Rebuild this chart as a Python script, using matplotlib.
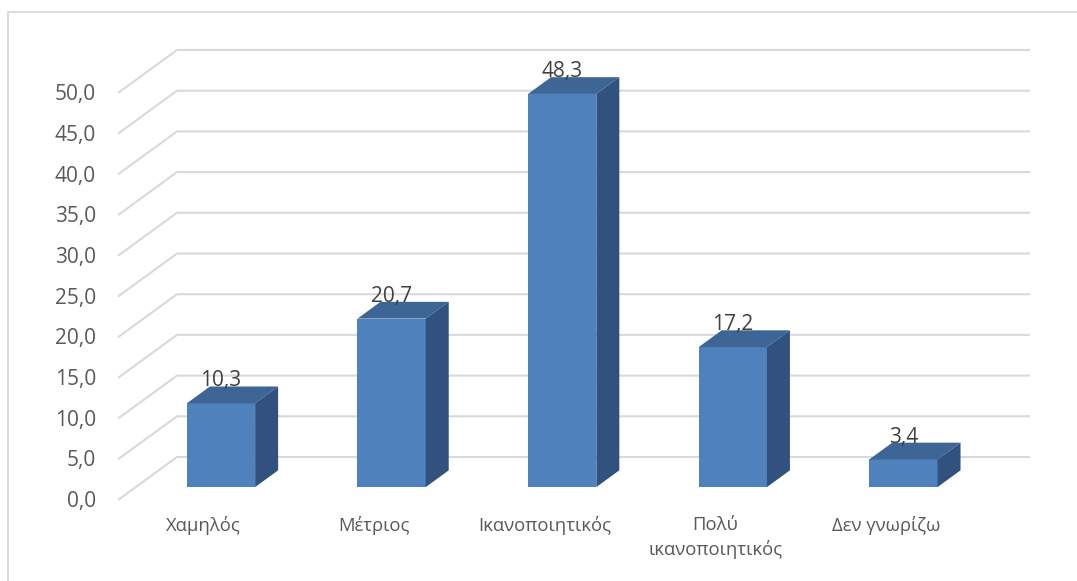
import matplotlib.pyplot as plt
from matplotlib.patches import Polygon

categories = ['Χαμηλός', 'Μέτριος', 'Ικανοποιητικός', 'Πολύ\nικανοποιητικός', 'Δεν γνωρίζω']
values = [10.3, 20.7, 48.3, 17.2, 3.4]
yticks = [0, 5, 10, 15, 20, 25, 30, 35, 40, 45, 50]

plt.rcParams['font.family'] = ['Open Sans', 'DejaVu Sans']

W, H = 1077, 581
# pixel layout of the pseudo-3d frame
x0_px, y0_px = 118, 500       # front plane: first category left edge, value 0
cat_px = 170.6                # pixels per category
unit_px = 8.14                # pixels per value unit
dx_px, dy_px = 59, 43         # full depth offset

DX = dx_px / cat_px
DY = dy_px / unit_px
d0, d1 = 0.30, 0.69           # bar depth range
bw = 0.4

fig = plt.figure(figsize=(W / 100, H / 100), dpi=100)
ax = fig.add_axes([0, 0, 1, 1])
ax.set_xlim(-x0_px / cat_px, (W - x0_px) / cat_px)
ax.set_ylim((y0_px - H) / unit_px, y0_px / unit_px)
ax.axis('off')

# outer chart border (only top and left visible)
fig.add_artist(plt.Line2D([8 / W, 8 / W], [0, 1 - 12 / H], color='#d9d9d9', lw=1.3))
fig.add_artist(plt.Line2D([8 / W, 1], [1 - 12 / H, 1 - 12 / H], color='#d9d9d9', lw=1.3))

n = len(categories)
grid_c = '#d9d9d9'
for v in yticks:
    ax.plot([0, DX, n + DX], [v, v + DY, v + DY], color=grid_c, lw=1.5, zorder=1,
            solid_capstyle='butt')
    ax.text(-22 / cat_px, v - 0.2, f'{v:.1f}'.replace('.', ','), ha='right', va='center',
            fontsize=15, color='#595959')

front_c = '#4f81bd'
top_c = '#3d6595'
side_c = '#31527f'

xs = [i + 0.5 for i in range(n)]
lefts = [x - bw / 2 + d0 * DX for x in xs]
ax.bar(lefts, values, width=bw, bottom=d0 * DY, align='edge', color=front_c, zorder=3)

ddx = (d1 - d0) * DX
ddy = (d1 - d0) * DY
for l, v in zip(lefts, values):
    top = v + d0 * DY
    r = l + bw
    ax.add_patch(Polygon([(l, top), (r, top), (r + ddx, top + ddy), (l + ddx, top + ddy)],
                         closed=True, color=top_c, zorder=3, lw=0))
    ax.add_patch(Polygon([(r, d0 * DY), (r + ddx, d0 * DY + ddy), (r + ddx, top + ddy), (r, top)],
                         closed=True, color=side_c, zorder=3, lw=0))
    ax.text(l + bw / 2, top + ddy - 0.6, f'{v:.1f}'.replace('.', ','), ha='center',
            va='bottom', fontsize=15, color='#404040', zorder=4)

for x, c in zip(xs, categories):
    ax.text(x, -2.0, c, ha='center', va='top', fontsize=13.3, color='#595959',
            linespacing=1.35)

fig.savefig('out.png', dpi=100)
